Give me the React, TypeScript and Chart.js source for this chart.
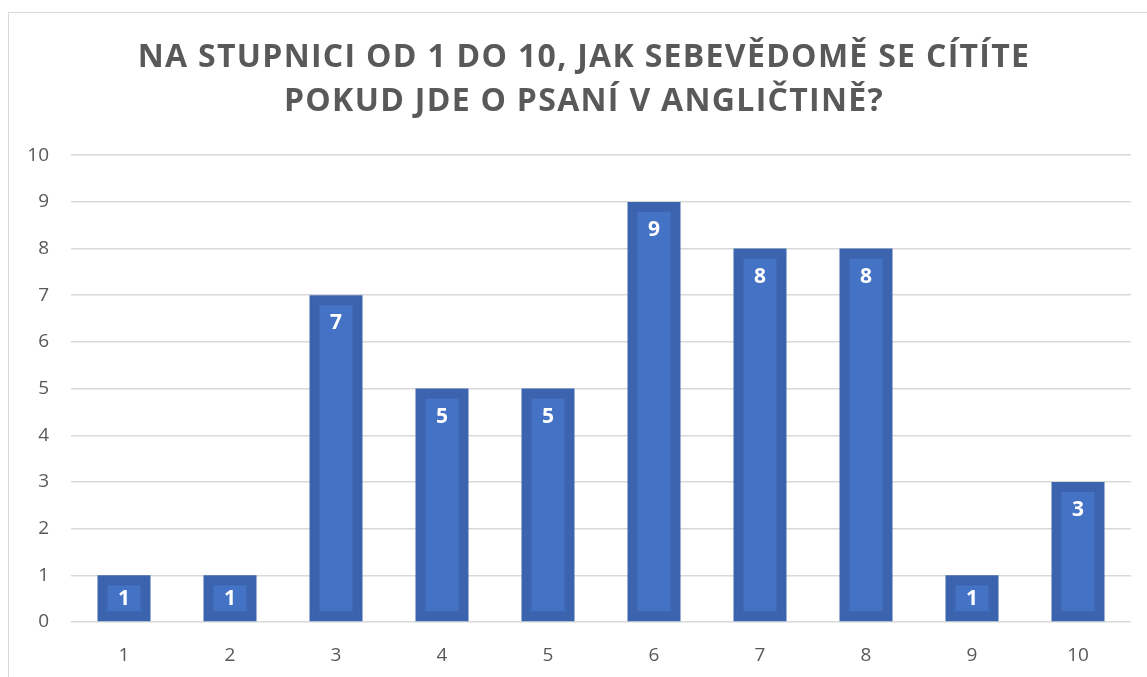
import React, { useEffect, useRef } from "react";
import { Chart, registerables } from "chart.js";

Chart.register(...registerables);

const titleLines = [
  "NA STUPNICI OD 1 DO 10, JAK SEBEVĚDOMĚ SE CÍTÍTE",
  "POKUD JDE O PSANÍ V ANGLIČTINĚ?",
];
const categories = ["1", "2", "3", "4", "5", "6", "7", "8", "9", "10"];
const counts = [1, 1, 7, 5, 5, 9, 8, 8, 1, 3];
const yTicks = [0, 1, 2, 3, 4, 5, 6, 7, 8, 9, 10];

const FONT = "'Open Sans', 'Liberation Sans', sans-serif";
const INSET = 10;

const innerFillPlugin = {
  id: "innerFill",
  afterDatasetsDraw(chart: any) {
    const ctx = chart.ctx;
    const meta = chart.getDatasetMeta(0);
    ctx.save();
    ctx.fillStyle = "#4472C4";
    meta.data.forEach((bar: any) => {
      const left = bar.x - bar.width / 2;
      const top = Math.min(bar.y, bar.base);
      const h = Math.abs(bar.base - bar.y);
      if (bar.width > 2 * INSET && h > 2 * INSET) {
        ctx.fillRect(left + INSET, top + INSET, bar.width - 2 * INSET, h - 2 * INSET);
      }
    });
    ctx.restore();
  },
};

const labelPlugin = {
  id: "insideEndLabels",
  afterDatasetsDraw(chart: any) {
    const ctx = chart.ctx;
    const meta = chart.getDatasetMeta(0);
    ctx.save();
    ctx.fillStyle = "#ffffff";
    ctx.font = `bold 21px ${FONT}`;
    ctx.textAlign = "center";
    ctx.textBaseline = "middle";
    meta.data.forEach((bar: any, i: number) => {
      const h = bar.base - bar.y;
      const off = Math.min(27, h / 2);
      ctx.fillText(String(counts[i]), bar.x, bar.y + off + 1);
    });
    ctx.restore();
  },
};

const titlePlugin = {
  id: "spacedTitle",
  afterDraw(chart: any) {
    const ctx = chart.ctx;
    ctx.save();
    ctx.fillStyle = "#595959";
    ctx.font = `bold 32px ${FONT}`;
    (ctx as any).letterSpacing = "1.3px";
    ctx.textAlign = "center";
    ctx.textBaseline = "middle";
    const cx = 584;
    ctx.fillText(titleLines[0], cx, 58);
    ctx.fillText(titleLines[1], cx, 102);
    ctx.restore();
  },
};

export default function App() {
  const ref = useRef<HTMLCanvasElement>(null);
  useEffect(() => {
    if (!ref.current) return;
    const chart = new Chart(ref.current, {
      type: "bar",
      data: {
        labels: categories,
        datasets: [
          {
            data: counts,
            backgroundColor: "#3C64AE",
            borderWidth: 0,
            inflateAmount: 0,
            barPercentage: 0.5,
            categoryPercentage: 1,
          },
        ],
      },
      options: {
        animation: false,
        responsive: false,
        maintainAspectRatio: false,
        layout: { padding: { left: 0, right: 16, top: 0, bottom: 0 } },
        plugins: {
          legend: { display: false },
          tooltip: { enabled: false },
          title: {
            display: true,
            text: titleLines,
            color: "rgba(0,0,0,0)",
            font: { family: FONT, size: 30, weight: "bold", lineHeight: 1.47 },
            padding: { top: 36, bottom: 31 },
          },
        },
        scales: {
          x: {
            afterFit: (s: any) => {
              s.height = 55;
            },
            grid: { display: false, drawTicks: false },
            border: { display: false },
            ticks: { color: "#595959", font: { family: FONT, size: 19 }, padding: 22 },
          },
          y: {
            min: 0,
            max: 10,
            afterFit: (s: any) => {
              s.width = 71;
            },
            afterBuildTicks: (s: any) => {
              s.ticks = yTicks.map((v) => ({ value: v }));
            },
            grid: { color: "#D9D9D9", lineWidth: 1.5, drawTicks: false },
            border: { display: false },
            ticks: { color: "#595959", font: { family: FONT, size: 19 }, padding: 22 },
          },
        },
      },
      plugins: [innerFillPlugin, labelPlugin, titlePlugin],
    });
    return () => chart.destroy();
  }, []);
  return (
    <div
      style={{
        position: "fixed",
        left: 0,
        top: 0,
        width: 1147,
        height: 677,
        overflow: "hidden",
        background: "#fff",
      }}
    >
      <div
        style={{
          position: "absolute",
          left: 8,
          top: 12,
          width: 1200,
          height: 700,
          border: "1px solid #D9D9D9",
          boxSizing: "border-box",
        }}
      />
      <canvas
        ref={ref}
        width={1147}
        height={677}
        style={{ position: "absolute", left: 0, top: 0, width: 1147, height: 677 }}
      />
    </div>
  );
}
